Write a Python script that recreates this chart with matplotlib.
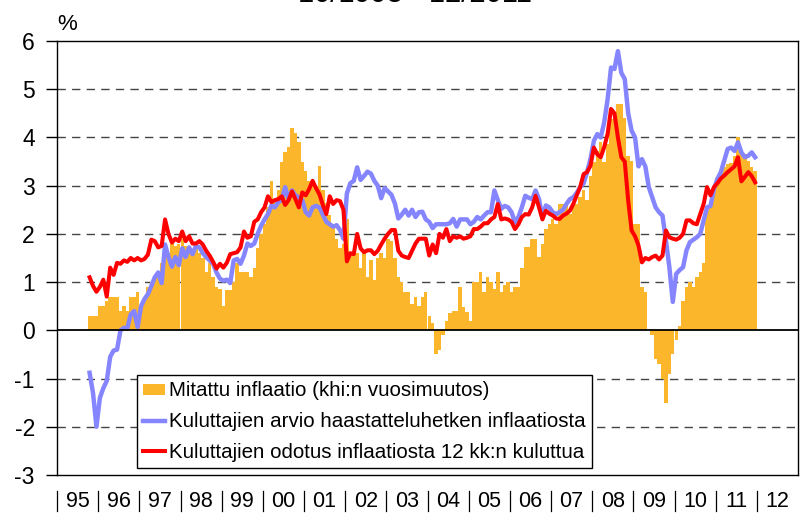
import numpy as np
import matplotlib
matplotlib.use("Agg")
import matplotlib.pyplot as plt
import matplotlib.transforms as mtransforms

plt.rcParams['font.family'] = ['Liberation Sans', 'DejaVu Sans']

# monthly data, 10/1995 ... 12/2011
start_year, start_month = 1995, 10

# Mitattu inflaatio (khi:n vuosimuutos), %
mitattu = (
    [0.3, 0.3, 0.3]
    + [0.5, 0.5, 0.6, 0.7, 0.7, 0.7, 0.4, 0.5, 0.4, 0.7, 0.7, 0.8]          # 1996
    + [0.5, 0.6, 0.9, 1.0, 1.1, 1.2, 1.4, 1.6, 1.6, 1.8, 1.75, 1.8]         # 1997
    + [1.9, 1.75, 1.65, 1.65, 1.7, 1.6, 1.5, 1.2, 1.4, 1.1, 0.9, 0.85]      # 1998
    + [0.5, 0.83, 0.83, 1.0, 1.4, 1.2, 1.2, 1.2, 1.1, 1.3, 1.7, 2.0]        # 1999
    + [2.2, 2.55, 3.1, 2.7, 2.9, 3.5, 3.7, 3.8, 4.2, 4.1, 3.9, 3.5]         # 2000
    + [3.3, 3.1, 3.1, 3.0, 3.4, 2.9, 2.65, 2.4, 2.2, 1.9, 1.7, 1.8]         # 2001
    + [2.3, 1.6, 1.6, 1.6, 1.3, 1.6, 1.1, 1.45, 1.05, 1.5, 1.6, 1.5]        # 2002
    + [1.9, 1.85, 1.5, 1.1, 1.0, 0.8, 0.8, 0.55, 0.7, 0.5, 0.7, 0.8]        # 2003
    + [0.3, 0.15, -0.5, -0.4, -0.1, 0.2, 0.35, 0.4, 0.4, 0.9, 0.48, 0.38]   # 2004
    + [0.2, 1.0, 1.0, 1.2, 0.8, 1.1, 1.0, 0.85, 1.2, 0.8, 0.93, 1.0]        # 2005
    + [0.8, 0.9, 0.9, 1.3, 1.72, 1.72, 1.9, 1.9, 1.52, 1.79, 2.1, 2.2]      # 2006
    + [2.31, 2.2, 2.62, 2.62, 2.59, 2.41, 2.62, 2.62, 2.76, 2.9, 2.7, 3.2]  # 2007
    + [3.5, 3.72, 3.9, 3.5, 3.86, 4.38, 4.38, 4.69, 4.69, 4.41, 3.62, 3.52] # 2008
    + [2.2, 2.2, 0.9, 0.8, 0.0, -0.1, -0.6, -0.7, -1.0, -1.5, -0.9, -0.5]   # 2009
    + [-0.2, 0.1, 0.6, 0.9, 1.0, 0.9, 1.1, 1.2, 1.4, 2.5, 2.6, 3.0]         # 2010
    + [3.17, 3.28, 3.38, 3.45, 3.48, 3.62, 4.0, 3.72, 3.65, 3.52, 3.39, 3.3] # 2011
)

# Kuluttajien arvio haastatteluhetken inflaatiosta, %
arvio = (
    [-0.88, -1.30, -2.00]
    + [-1.40, -1.20, -1.05, -0.55, -0.42, -0.40, 0.00, 0.05, 0.05, 0.33, 0.40, 0.07]
    + [0.50, 0.65, 0.75, 0.92, 1.10, 1.20, 0.98, 1.78, 1.52, 1.32, 1.52, 1.35]
    + [1.70, 1.52, 1.72, 1.58, 1.75, 1.72, 1.60, 1.52, 1.45, 1.38, 1.20, 1.07]
    + [1.03, 1.05, 0.98, 1.45, 1.48, 1.38, 1.55, 1.80, 1.75, 1.80, 2.00, 2.17]
    + [2.30, 2.41, 2.59, 2.55, 2.66, 2.70, 2.97, 2.72, 2.90, 2.80, 2.76, 2.70]
    + [2.45, 2.38, 2.55, 2.58, 2.55, 2.40, 2.25, 2.20, 2.15, 2.18, 2.08, 1.90]
    + [2.84, 3.05, 3.10, 3.38, 3.12, 3.20, 3.29, 3.25, 3.10, 3.00, 2.74, 2.95]
    + [2.88, 2.81, 2.63, 2.32, 2.40, 2.50, 2.38, 2.50, 2.35, 2.45, 2.46, 2.30]
    + [2.25, 2.12, 2.20, 2.20, 2.20, 2.20, 2.22, 2.31, 2.15, 2.30, 2.30, 2.30]
    + [2.20, 2.25, 2.35, 2.30, 2.38, 2.45, 2.45, 2.90, 2.70, 2.52, 2.58, 2.55]
    + [2.45, 2.24, 2.35, 2.55, 2.79, 2.75, 2.72, 2.90, 2.72, 2.34, 2.59, 2.55]
    + [2.45, 2.41, 2.45, 2.50, 2.62, 2.72, 2.76, 2.85, 2.97, 3.05, 3.28, 3.55]
    + [3.93, 4.07, 4.00, 4.31, 4.79, 5.45, 5.42, 5.79, 5.34, 5.21, 4.50, 4.14]
    + [4.00, 3.40, 3.55, 3.40, 2.97, 2.76, 2.55, 2.45, 2.38, 1.86, 1.31, 0.59]
    + [1.17, 1.25, 1.31, 1.66, 1.83, 1.88, 1.93, 2.00, 2.28, 2.55, 2.58, 2.93]
    + [3.14, 3.28, 3.52, 3.76, 3.79, 3.72, 3.90, 3.69, 3.59, 3.62, 3.69, 3.59]
)

# Kuluttajien odotus inflaatiosta 12 kk:n kuluttua, %
odotus = (
    [1.10, 0.92, 0.80]
    + [0.90, 1.05, 0.70, 1.30, 1.15, 1.40, 1.38, 1.45, 1.42, 1.50, 1.45, 1.50]
    + [1.45, 1.48, 1.57, 1.88, 1.85, 1.72, 1.75, 2.30, 2.00, 1.82, 1.90, 1.85]
    + [2.05, 1.85, 1.95, 1.80, 1.80, 1.85, 1.78, 1.65, 1.55, 1.42, 1.28, 1.38]
    + [1.30, 1.40, 1.58, 1.60, 1.62, 1.72, 2.05, 1.92, 1.95, 2.25, 2.30, 2.45]
    + [2.55, 2.78, 2.66, 2.70, 2.72, 2.78, 2.60, 2.70, 2.88, 2.72, 2.55, 2.86]
    + [2.80, 2.93, 3.10, 2.95, 2.82, 2.60, 2.41, 2.78, 2.62, 2.70, 2.68, 2.50]
    + [1.43, 1.60, 1.58, 2.00, 1.70, 1.62, 1.66, 1.66, 1.58, 1.65, 1.78, 1.90]
    + [2.00, 2.08, 2.08, 1.65, 1.55, 1.52, 1.50, 1.65, 1.80, 1.90, 1.90, 1.90]
    + [1.55, 1.78, 1.60, 2.00, 1.92, 2.10, 1.85, 1.95, 1.92, 1.95, 1.90, 1.92]
    + [1.95, 2.10, 2.10, 2.15, 2.22, 2.22, 2.30, 2.35, 2.62, 2.30, 2.32, 2.30]
    + [2.25, 2.10, 2.20, 2.35, 2.41, 2.40, 2.55, 2.79, 2.55, 2.30, 2.48, 2.42]
    + [2.38, 2.32, 2.31, 2.38, 2.42, 2.48, 2.62, 2.80, 2.97, 3.24, 3.28, 3.41]
    + [3.79, 3.65, 3.59, 3.80, 4.07, 4.59, 4.50, 4.00, 3.59, 3.50, 2.69, 2.07]
    + [1.95, 1.76, 1.41, 1.50, 1.47, 1.52, 1.55, 1.47, 1.55, 2.07, 1.93, 1.90]
    + [1.88, 1.92, 2.00, 2.28, 2.28, 2.22, 2.20, 2.41, 2.62, 2.97, 2.80, 2.97]
    + [3.05, 3.15, 3.21, 3.28, 3.34, 3.40, 3.59, 3.09, 3.18, 3.28, 3.20, 3.07]
)

year_labels = ["95", "96", "97", "98", "99", "00", "01", "02", "03",
               "04", "05", "06", "07", "08", "09", "10", "11", "12"]
yticks = [-3, -2, -1, 0, 1, 2, 3, 4, 5, 6]

labels = ["Mitattu inflaatio (khi:n vuosimuutos)",
          "Kuluttajien arvio haastatteluhetken inflaatiosta",
          "Kuluttajien odotus inflaatiosta 12 kk:n kuluttua"]

ORANGE = '#FBB62B'
BLUE = '#8585FF'
RED = '#FF0000'

n = len(mitattu)
t_left = start_year + (start_month - 1 + np.arange(n)) / 12.0
t_mid = t_left + 1 / 24.0

fig = plt.figure(figsize=(8, 5.26), dpi=100)
ax = fig.add_axes([57 / 800, 51 / 526, 741 / 800, 434 / 526])

bars = ax.bar(t_left, mitattu, width=1 / 12, align='edge', color=ORANGE,
              linewidth=0, zorder=2)
l_arvio, = ax.plot(t_mid, arvio, color=BLUE, lw=3.2, zorder=3,
                   solid_joinstyle='round')
l_odotus, = ax.plot(t_mid, odotus, color=RED, lw=2.9, zorder=4,
                    solid_joinstyle='round')

for yv in yticks:
    if yv in (-3, 0, 6):
        continue
    ax.axhline(yv, color='#444444', lw=1.0, ls=(0, (6, 4.5)), zorder=1)
ax.axhline(0, color='black', lw=1.3, zorder=5)

ax.set_xlim(1995, 2013)
ax.set_ylim(-3, 6)
ax.set_yticks(yticks)
ax.set_yticklabels([str(v) for v in yticks], fontsize=16.5)
ax.tick_params(axis='y', direction='out', length=8, width=1, pad=8)
ax.set_xticks([])
for sp in ax.spines.values():
    sp.set_linewidth(1.0)
    sp.set_color('black')

# year labels with separators below the axis
trans = mtransforms.blended_transform_factory(ax.transData, ax.transAxes)
for i, lab in enumerate(year_labels):
    yr = 1995 + i
    ax.text(yr + 0.5, -0.060, lab, transform=trans, ha='center', va='center',
            fontsize=15.5, clip_on=False)
    ax.plot([yr, yr], [-0.038, -0.082], transform=trans, color='black',
            lw=0.9, clip_on=False)

fig.text(57 / 800, 1 - 30 / 526, "%", fontsize=16, ha='left', va='baseline')
# title is cut off at the top edge, as in the original
fig.text(0.519, 1 - 2.5 / 526, "10/1995 - 12/2011", fontsize=21,
         ha='center', va='baseline')

leg = ax.legend([bars, l_arvio, l_odotus], labels,
                loc='lower left', bbox_to_anchor=(80 / 741, 7 / 434),
                fontsize=14.8, frameon=True, fancybox=False, framealpha=1,
                edgecolor='black', borderaxespad=0, handlelength=1.05,
                handleheight=0.45, handletextpad=0.2, labelspacing=0.57,
                borderpad=0.3)
leg.get_frame().set_linewidth(1.0)
leg.set_zorder(10)

fig.savefig("out.png", dpi=100)
